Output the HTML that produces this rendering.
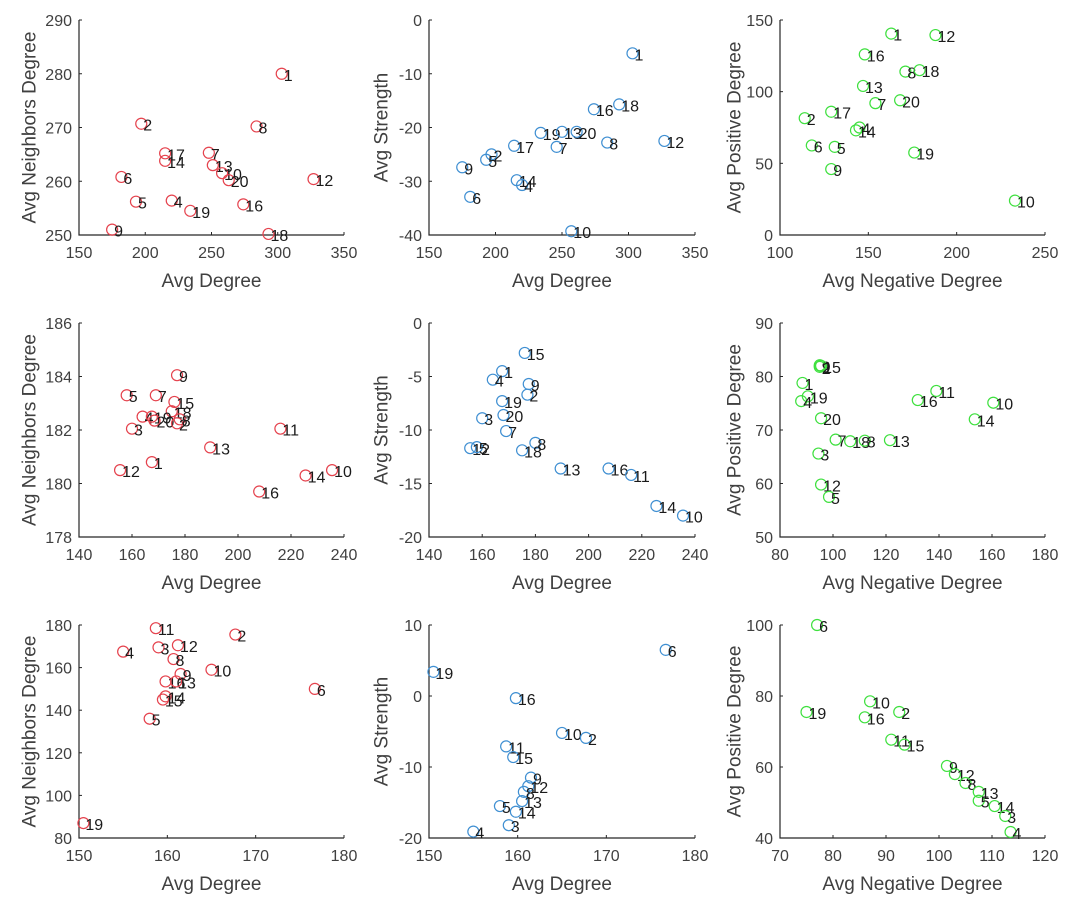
<!DOCTYPE html>
<html><head><meta charset="utf-8"><style>
body{margin:0;background:#fff;}
svg{display:block;font-family:"Liberation Sans",sans-serif;}
</style></head><body>
<svg id="fig" width="1080" height="901" viewBox="0 0 1080 901"></svg>
<script>
// Panel data: ids, x values, y values
const p1Ids=[1,2,17,14,6,5,4,9,7,13,10,20,19,16,8,18,12];
const p1X=[303,197,215,215,182,193,220,175,248,251,258,263,234,274,284,293,327];
const p1Y=[280,270.7,265.2,263.8,260.8,256.2,256.4,251,265.3,263,261.5,260.2,254.5,255.7,270.2,250.2,260.4];
const p2Ids=[1,18,16,19,13,20,8,12,17,7,2,5,9,14,4,6,10];
const p2X=[303,293,274,234,250,261,284,327,214,246,197,193,175,216,220,181,257];
const p2Y=[-6.2,-15.7,-16.6,-21,-20.8,-20.8,-22.8,-22.5,-23.4,-23.6,-25,-26,-27.4,-29.8,-30.7,-32.9,-39.3];
const p3Ids=[1,12,16,8,18,13,20,7,17,2,4,14,6,5,19,9,10];
const p3X=[163,188,148,171,179,147,168,154,129,114,145,143,118,131,176,129,233];
const p3Y=[140.5,139.5,126,114,115,104,94,92,86,81.5,75,73,62.5,61.5,57.5,46,24];
const p4Ids=[9,5,7,15,18,4,19,20,2,8,3,11,13,1,12,14,10,16];
const p4X=[177,158,169,176,175,164,167.5,168.5,177,178,160,216,189.5,167.5,155.5,225.5,235.5,208];
const p4Y=[184.05,183.3,183.3,183.05,182.7,182.5,182.5,182.35,182.25,182.4,182.05,182.05,181.35,180.8,180.5,180.3,180.5,179.7];
const p5Ids=[15,1,4,9,2,19,3,20,7,8,12,5,18,13,16,11,14,10];
const p5X=[176,167.5,164,177.5,177,167.5,160,168,169,180,155.5,158,175,189.5,207.5,216,225.5,235.5];
const p5Y=[-2.8,-4.5,-5.3,-5.7,-6.7,-7.3,-8.9,-8.6,-10.1,-11.2,-11.7,-11.6,-11.9,-13.6,-13.6,-14.2,-17.1,-18];
const p6Ids=[9,15,2,1,19,4,20,7,18,8,13,3,12,5,16,11,14,10];
const p6X=[95,95.5,95,88.5,90.5,88,95.5,101,106.5,112,121.5,94.5,95.5,98.5,132,139,153.5,160.5];
const p6Y=[82.1,82,81.8,78.8,76.3,75.4,72.2,68.2,67.9,68,68.1,65.6,59.8,57.5,75.6,77.3,72,75.1];
const p7Ids=[11,2,12,3,4,8,10,9,16,13,14,15,5,6,19];
const p7X=[158.7,167.7,161.2,159,155,160.7,165,161.5,159.8,161,159.8,159.5,158,176.7,150.5];
const p7Y=[178.5,175.5,170.5,169.5,167.5,164,159,157,153.5,153.5,146.5,145,136,150,87];
const p8Ids=[6,19,16,10,2,11,15,9,12,8,13,5,14,3,4];
const p8X=[176.7,150.5,159.8,165,167.7,158.7,159.5,161.5,161.2,160.7,160.5,158,159.8,159,155];
const p8Y=[6.5,3.4,-0.3,-5.2,-5.9,-7.1,-8.6,-11.5,-12.7,-13.5,-14.8,-15.5,-16.3,-18.2,-19.1];
const p9Ids=[6,10,2,19,16,11,15,9,12,8,13,5,14,3,4];
const p9X=[77,87,92.5,75,86,91,93.5,101.5,103,105,107.5,107.5,110.5,112.5,113.5];
const p9Y=[100,78.5,75.5,75.5,74,67.7,66.3,60.3,58,55.5,53,50.5,49,46.2,41.7];
// tick labels
const xt1=[150,200,250,300,350], yt1=[250,260,270,280,290];
const yt2=[-40,-30,-20,-10,0], xt3=[100,150,200,250], yt3=[0,50,100,150];
const xt4=[140,160,180,200,220,240], yt4=[178,180,182,184,186];
const yt5=[-20,-15,-10,-5,0], xt6=[80,100,120,140,160,180], yt6=[50,60,70,80,90];
const xt7=[150,160,170,180], yt7=[80,100,120,140,160,180];
const yt8=[-20,-10,0,10], xt9=[70,80,90,100,110,120], yt9=[40,60,80,100];

const NS="http://www.w3.org/2000/svg";
const fig=document.getElementById('fig');
function mk(tag,attrs,parent){const e=document.createElementNS(NS,tag);for(const k in attrs)e.setAttribute(k,attrs[k]);parent.appendChild(e);return e;}

const cols=[[79,344],[429,695],[780,1045]];
const rows=[[20,235],[323,537],[625,838]];
const ylabX=[30,382,735];
const panels=[
 {r:0,c:0,ids:p1Ids,x:p1X,y:p1Y,xt:xt1,yt:yt1,xl:'Avg Degree',yl:'Avg Neighbors Degree',col:'#e5424d'},
 {r:0,c:1,ids:p2Ids,x:p2X,y:p2Y,xt:xt1,yt:yt2,xl:'Avg Degree',yl:'Avg Strength',col:'#3f8fd2'},
 {r:0,c:2,ids:p3Ids,x:p3X,y:p3Y,xt:xt3,yt:yt3,xl:'Avg Negative Degree',yl:'Avg Positive Degree',col:'#3ee03e'},
 {r:1,c:0,ids:p4Ids,x:p4X,y:p4Y,xt:xt4,yt:yt4,xl:'Avg Degree',yl:'Avg Neighbors Degree',col:'#e5424d'},
 {r:1,c:1,ids:p5Ids,x:p5X,y:p5Y,xt:xt4,yt:yt5,xl:'Avg Degree',yl:'Avg Strength',col:'#3f8fd2'},
 {r:1,c:2,ids:p6Ids,x:p6X,y:p6Y,xt:xt6,yt:yt6,xl:'Avg Negative Degree',yl:'Avg Positive Degree',col:'#3ee03e'},
 {r:2,c:0,ids:p7Ids,x:p7X,y:p7Y,xt:xt7,yt:yt7,xl:'Avg Degree',yl:'Avg Neighbors Degree',col:'#e5424d'},
 {r:2,c:1,ids:p8Ids,x:p8X,y:p8Y,xt:xt7,yt:yt8,xl:'Avg Degree',yl:'Avg Strength',col:'#3f8fd2'},
 {r:2,c:2,ids:p9Ids,x:p9X,y:p9Y,xt:xt9,yt:yt9,xl:'Avg Negative Degree',yl:'Avg Positive Degree',col:'#3ee03e'}
];
panels.forEach((p,i)=>{
 const [x0,x1]=cols[p.c],[y0,y1]=rows[p.r];
 const xmin=p.xt[0],xmax=p.xt[p.xt.length-1],ymin=p.yt[0],ymax=p.yt[p.yt.length-1];
 const sx=v=>x0+(v-xmin)/(xmax-xmin)*(x1-x0);
 const sy=v=>y1-(v-ymin)/(ymax-ymin)*(y1-y0);
 const g=mk('g',{},fig);
 
 
 const ax=mk('path',{d:`M${x0} ${y0}V${y1}H${x1}`,fill:'none',stroke:'#262626','stroke-width':1.2},g);
 
 
 p.xt.forEach(t=>{
  const X=sx(t);
  mk('line',{x1:X,y1:y1,x2:X,y2:y1-3,stroke:'#262626'},g);
  const tx=mk('text',{x:X,y:y1+23,'text-anchor':'middle','font-size':16,fill:'#404040'},g);
  tx.textContent=t;
  
  
 });
 p.yt.forEach(t=>{
  const Y=sy(t);
  mk('line',{x1:x0,y1:Y,x2:x0+3,y2:Y,stroke:'#262626'},g);
  const ty=mk('text',{x:x0-7,y:Y+6,'text-anchor':'end','font-size':16,fill:'#404040'},g);
  ty.textContent=t;
  
  
 });
 const xl=mk('text',{x:(x0+x1)/2,y:y1+52,'text-anchor':'middle','font-size':19,fill:'#404040'},g);
 xl.textContent=p.xl;
 
 
 const yc=(y0+y1)/2, yx=ylabX[p.c];
 const yl=mk('text',{x:yx,y:yc,'text-anchor':'middle','font-size':19,fill:'#404040',transform:`rotate(-90 ${yx} ${yc})`,'dominant-baseline':'central'},g);
 yl.textContent=p.yl;
 
 
 p.ids.forEach((id,k)=>{
  const X=sx(p.x[k]),Y=sy(p.y[k]);
  const c=mk('circle',{cx:X,cy:Y,r:5.5,fill:'none',stroke:p.col,'stroke-width':1.2},g);
  
  
  const t=mk('text',{x:X+2,y:Y+7,'font-size':16,fill:'#1a1a1a'},g);
  t.textContent=id;
  
  
 });
});
</script>
</body></html>
